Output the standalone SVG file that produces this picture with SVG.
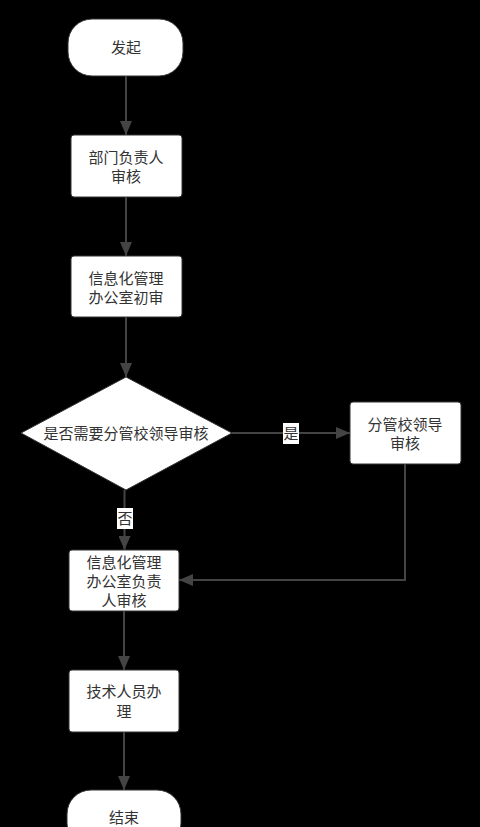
<svg xmlns="http://www.w3.org/2000/svg" width="480" height="827" viewBox="0 0 480 827">
<defs>
<style>
.node{fill:#fff;stroke:#333;stroke-width:1}
.t{font-family:"Noto Sans CJK SC","Noto Sans",sans-serif;font-size:15px;fill:#333;text-anchor:middle}
.c{fill:none;stroke:#444;stroke-width:2}
.lb{fill:#fff}
</style>
<marker id="ah" markerWidth="14" markerHeight="12" refX="14" refY="6" orient="auto" markerUnits="userSpaceOnUse">
<path d="M0,0 L14,6 L0,12 Z" fill="#444"/>
</marker>
</defs>
<rect width="480" height="827" fill="#000"/>
<g id="connectors">
<line class="c" x1="126" y1="76" x2="126" y2="135" marker-end="url(#ah)"/>
<line class="c" x1="126" y1="197" x2="126" y2="256" marker-end="url(#ah)"/>
<line class="c" x1="126" y1="317" x2="126" y2="377" marker-end="url(#ah)"/>
<line class="c" x1="232" y1="433" x2="350" y2="433" marker-end="url(#ah)"/>
<line class="c" x1="124.5" y1="490" x2="124.5" y2="550" marker-end="url(#ah)"/>
<polyline class="c" points="405,464 405,580 179,580" marker-end="url(#ah)"/>
<line class="c" x1="124" y1="611" x2="124" y2="670" marker-end="url(#ah)"/>
<line class="c" x1="124" y1="732" x2="124" y2="790" marker-end="url(#ah)"/>
<rect class="lb" x="283" y="423" width="16" height="21"/>
<text class="t" x="291" y="439">是</text>
<rect class="lb" x="117" y="508" width="16" height="21"/>
<text class="t" x="125" y="524">否</text>
</g>
<g id="start">
<rect class="node" x="68" y="19" width="115" height="57" rx="24" ry="24"/>
<text class="t" x="126" y="53">发起</text>
</g>
<g id="dept">
<rect class="node" x="71" y="135" width="111" height="62" rx="3"/>
<text class="t" x="126" y="163">部门负责人</text>
<text class="t" x="126" y="182">审核</text>
</g>
<g id="info-initial">
<rect class="node" x="71" y="256" width="111" height="61" rx="3"/>
<text class="t" x="126" y="284">信息化管理</text>
<text class="t" x="126" y="303">办公室初审</text>
</g>
<g id="decision">
<polygon class="node" points="126,377 232,433 126,490 21,433"/>
<text class="t" x="126" y="439">是否需要分管校领导审核</text>
</g>
<g id="leader">
<rect class="node" x="350" y="402" width="111" height="62" rx="3"/>
<text class="t" x="405" y="430">分管校领导</text>
<text class="t" x="405" y="449">审核</text>
</g>
<g id="info-head">
<rect class="node" x="69" y="550" width="110" height="61" rx="3"/>
<text class="t" x="124" y="568">信息化管理</text>
<text class="t" x="124" y="587">办公室负责</text>
<text class="t" x="124" y="606">人审核</text>
</g>
<g id="tech">
<rect class="node" x="69" y="670" width="110" height="62" rx="3"/>
<text class="t" x="124" y="697">技术人员办</text>
<text class="t" x="124" y="717">理</text>
</g>
<g id="end">
<rect class="node" x="67" y="790" width="114" height="57" rx="24" ry="24"/>
<text class="t" x="124" y="823">结束</text>
</g>
</svg>
